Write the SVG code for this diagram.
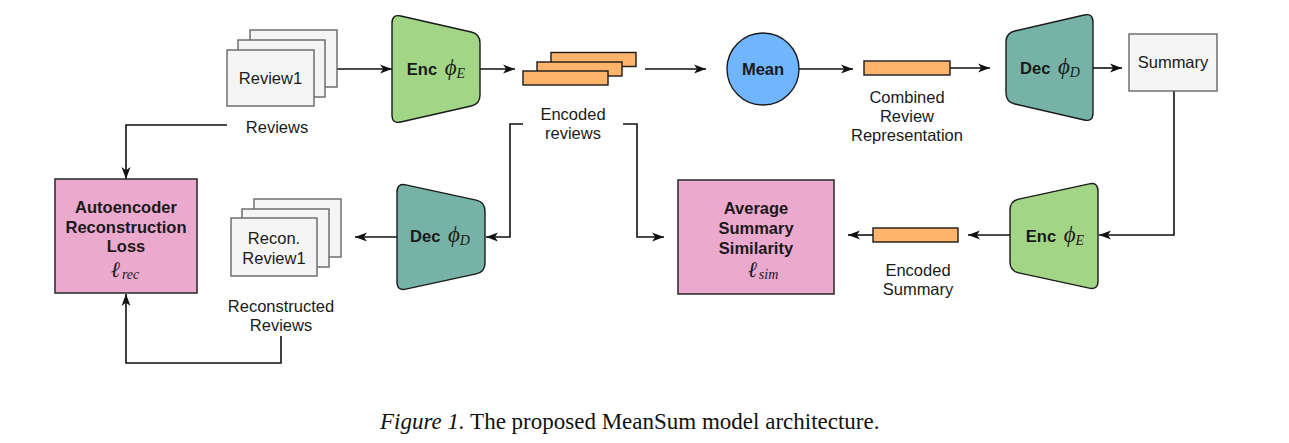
<svg xmlns="http://www.w3.org/2000/svg" width="1289" height="443" viewBox="0 0 1289 443">
<style>
.bg{fill:#ffffff}
.doc{fill:#f5f5f5;stroke:#666666;stroke-width:1.4}
.vec{fill:#ffb46b;stroke:#1a1a1a;stroke-width:1.4}
.enc{fill:#a2d586;stroke:#1a1a1a;stroke-width:1.4}
.dec{fill:#76b2a6;stroke:#1a1a1a;stroke-width:1.4}
.mean{fill:#6fb5ff;stroke:#1a1a1a;stroke-width:1.4}
.loss{fill:#eca9ce;stroke:#333333;stroke-width:1.6}
.t{font-family:"Liberation Sans",Arial,sans-serif;font-size:16.5px;fill:#1a1a1a;text-anchor:middle}
.b{font-weight:bold}
.m{font-family:"Liberation Serif","DejaVu Serif",serif;font-style:italic;font-weight:normal}
.conn path{fill:none;stroke:#111111;stroke-width:1.6;marker-end:url(#arr)}
.cap{font-family:"Liberation Serif","Times New Roman",serif;font-size:23px;fill:#111111}
</style>
<defs>
<marker id="arr" viewBox="0 0 12 10" refX="12" refY="5" markerWidth="12" markerHeight="10" markerUnits="userSpaceOnUse" orient="auto">
<path d="M0,0.5 L12,5 L0,9.5 L3.2,5 Z" fill="#111111"/>
</marker>
</defs>
<rect class="bg" x="0" y="0" width="1289" height="443"/>

<g id="connectors" class="conn">
<path d="M325,69 H392"/>
<path d="M480,69 H515"/>
<path d="M645,69 H706"/>
<path d="M799,69 H853"/>
<path d="M950,68 H990"/>
<path d="M1093,68 H1122"/>
<path d="M1174,91 V235 H1099"/>
<path d="M1010,235 H968"/>
<path d="M873,235 H848"/>
<path d="M623,124 H637 V237 H664"/>
<path d="M523,124 H510 V237 H486"/>
<path d="M397,237 H355"/>
<path d="M227,125 H126 V179"/>
<path d="M281,336 V363 H126 V294"/>
</g>

<g id="reviews">
<rect class="doc" x="250" y="30" width="87" height="57"/>
<rect class="doc" x="238" y="40" width="87" height="57"/>
<rect class="doc" x="227" y="50" width="87" height="56"/>
<text class="t" x="270.5" y="84">Review1</text>
<text class="t" x="277" y="133">Reviews</text>
</g>

<g id="enc-top">
<path class="enc" d="M392,23 Q392,14 400.78,15.99 L471.22,32.01 Q480,34 480,43 L480,95 Q480,104 471.22,106 L400.78,122.01 Q392,124 392,115 Z"/>
<text class="t" x="436" y="75"><tspan class="b">Enc </tspan><tspan class="m" font-size="23" dx="3">ϕ</tspan><tspan class="m" font-size="14" dy="3">E</tspan></text>
</g>

<g id="encoded-reviews">
<rect class="vec" x="551" y="52.5" width="85" height="14"/>
<rect class="vec" x="537" y="62" width="85" height="14"/>
<rect class="vec" x="523" y="71" width="85" height="14"/>
<text class="t" x="573" y="120">Encoded</text>
<text class="t" x="573" y="139">reviews</text>
</g>

<g id="mean">
<circle class="mean" cx="763" cy="69" r="36"/>
<text class="t b" x="763" y="75">Mean</text>
</g>

<g id="combined">
<rect class="vec" x="864" y="61" width="86" height="14"/>
<text class="t" x="907" y="103">Combined</text>
<text class="t" x="907" y="122">Review</text>
<text class="t" x="907" y="141">Representation</text>
</g>

<g id="dec-top">
<path class="dec" d="M1006,42 Q1006,33 1014.77,30.98 L1084.23,15.02 Q1093,13 1093,22 L1093,113 Q1093,122 1084.23,119.98 L1014.77,104.02 Q1006,102 1006,93 Z"/>
<text class="t" x="1050" y="74"><tspan class="b">Dec </tspan><tspan class="m" font-size="23" dx="3">ϕ</tspan><tspan class="m" font-size="14" dy="3">D</tspan></text>
</g>

<g id="summary">
<rect class="doc" x="1129" y="34" width="88" height="57"/>
<text class="t" x="1173" y="68">Summary</text>
</g>

<g id="enc-bottom">
<path class="enc" d="M1010,210 Q1010,201 1018.8,199.1 L1089.2,183.9 Q1098,182 1098,191 L1098,281 Q1098,290 1089.2,288.1 L1018.8,272.9 Q1010,271 1010,262 Z"/>
<text class="t" x="1055" y="242"><tspan class="b">Enc </tspan><tspan class="m" font-size="23" dx="3">ϕ</tspan><tspan class="m" font-size="14" dy="3">E</tspan></text>
</g>

<g id="encoded-summary">
<rect class="vec" x="873" y="228" width="85" height="14"/>
<text class="t" x="918" y="276">Encoded</text>
<text class="t" x="918" y="295">Summary</text>
</g>

<g id="similarity">
<rect class="loss" x="678" y="180" width="156" height="114"/>
<text class="t b" x="756" y="214">Average</text>
<text class="t b" x="756" y="234">Summary</text>
<text class="t b" x="756" y="254">Similarity</text>
<text class="t" x="763" y="277"><tspan class="m" font-size="22">ℓ</tspan><tspan class="m" font-size="14" dx="2" dy="2">sim</tspan></text>
</g>

<g id="dec-bottom">
<path class="dec" d="M397,192 Q397,183 405.8,184.9 L476.2,200.1 Q485,202 485,211 L485,263 Q485,272 476.2,273.9 L405.8,289.1 Q397,291 397,282 Z"/>
<text class="t" x="440" y="242"><tspan class="b">Dec </tspan><tspan class="m" font-size="23" dx="3">ϕ</tspan><tspan class="m" font-size="14" dy="3">D</tspan></text>
</g>

<g id="reconstructed">
<rect class="doc" x="254" y="199" width="87" height="58"/>
<rect class="doc" x="242" y="209" width="87" height="58"/>
<rect class="doc" x="231" y="218" width="86" height="58"/>
<text class="t" x="274" y="244">Recon.</text>
<text class="t" x="274" y="264">Review1</text>
<text class="t" x="281" y="312">Reconstructed</text>
<text class="t" x="281" y="331">Reviews</text>
</g>

<g id="reconstruction-loss">
<rect class="loss" x="55" y="179" width="142" height="114"/>
<text class="t b" x="126" y="213">Autoencoder</text>
<text class="t b" x="126" y="233">Reconstruction</text>
<text class="t b" x="126" y="252">Loss</text>
<text class="t" x="125" y="277"><tspan class="m" font-size="22">ℓ</tspan><tspan class="m" font-size="14" dx="2" dy="2">rec</tspan></text>
</g>

<text class="cap" x="380" y="429"><tspan font-style="italic">Figure 1.</tspan> The proposed MeanSum model architecture.</text>
</svg>
